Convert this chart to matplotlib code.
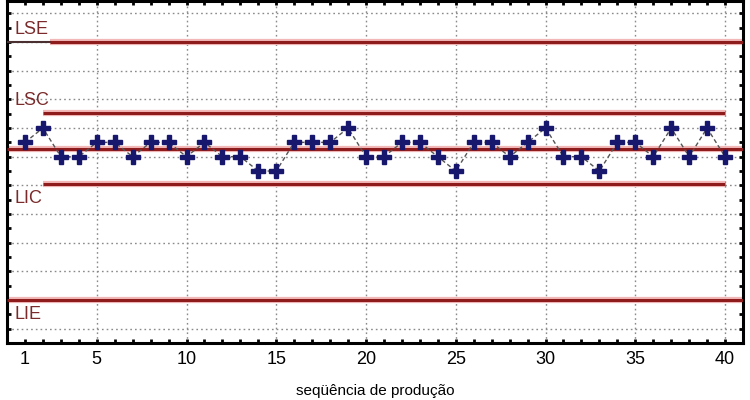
import matplotlib
matplotlib.use("Agg")
import matplotlib.pyplot as plt
import numpy as np

# Data
seq = list(range(1, 41))
values = [7.5, 8.0, 7.0, 7.0, 7.5, 7.5, 7.0, 7.5, 7.5, 7.0,
          7.5, 7.0, 7.0, 6.5, 6.5, 7.5, 7.5, 7.5, 8.0, 7.0,
          7.0, 7.5, 7.5, 7.0, 6.5, 7.5, 7.5, 7.0, 7.5, 8.0,
          7.0, 7.0, 6.5, 7.5, 7.5, 7.0, 8.0, 7.0, 8.0, 7.0]
limit_names = ["LSE", "LSC", "LIC", "LIE"]
limit_values = [11.0, 8.53, 6.04, 2.0]
center_value = 7.26
xtick_labels = [1, 5, 10, 15, 20, 25, 30, 35, 40]
xlabel = "seqüência de produção"

plt.rcParams['font.family'] = ['Liberation Sans', 'DejaVu Sans']

fig = plt.figure(figsize=(7.5, 4), dpi=100)
ax = fig.add_axes([7/750, 57/400, 736/750, 342.5/400])
ax.set_xlim(0, 41)
ax.set_ylim(0.5, 12.45)

# grid
for y in range(1, 13):
    ax.axhline(y, color='#8a8a8a', lw=1.0, ls=(0, (1.2, 2.2)), zorder=1)
for x in range(5, 41, 5):
    ax.axvline(x, color='#8a8a8a', lw=1.0, ls=(0, (1.2, 2.2)), zorder=1)

red = '#8e1c1c'
halo = '#f2b8b8'
def hline(y, x0, x1):
    ax.plot([x0, x1], [y, y], color=halo, lw=4.5, solid_capstyle='butt', zorder=2)
    ax.plot([x0, x1], [y, y], color=red, lw=2.2, solid_capstyle='butt', zorder=3)

# limits
ax.plot([0, 2.4], [limit_values[0]] * 2, color='#4a3030', lw=1.5, zorder=3)
hline(limit_values[0], 2.4, 41)
hline(limit_values[1], 2, 40)
hline(limit_values[2], 2, 40)
hline(limit_values[3], 0, 41)
hline(center_value, 0, 41)

# labels
label_y = [11.45, 8.97, 5.55, 1.48]
for name, ly in zip(limit_names, label_y):
    ax.text(0.42, ly, name, color='#7a2a2a', fontsize=13, va='center', ha='left', zorder=5)

# data
ax.plot(seq, values, color='#555555', lw=1.0, ls=(0, (3, 2)), zorder=4)
ax.plot(seq, values, ls='none', marker='P', markersize=10, color='#17176e',
        markeredgecolor='#17176e', zorder=6)

# ticks
ax.set_xticks(xtick_labels)
ax.set_xticklabels([str(v) for v in xtick_labels], fontsize=13)
ax.set_xticks(seq, minor=True)
ax.set_yticks(range(1, 13))
ax.set_yticks(np.arange(0.5, 12.5, 0.5), minor=True)
ax.set_yticklabels([])
ax.tick_params(which='both', direction='in', top=True, right=True, width=2, length=3, color='black')
ax.tick_params(axis='x', which='major', pad=6)
ax.set_xlabel(xlabel, fontsize=11, labelpad=11)
for s in ax.spines.values():
    s.set_linewidth(2.2)

fig.savefig("out.png", dpi=100)
